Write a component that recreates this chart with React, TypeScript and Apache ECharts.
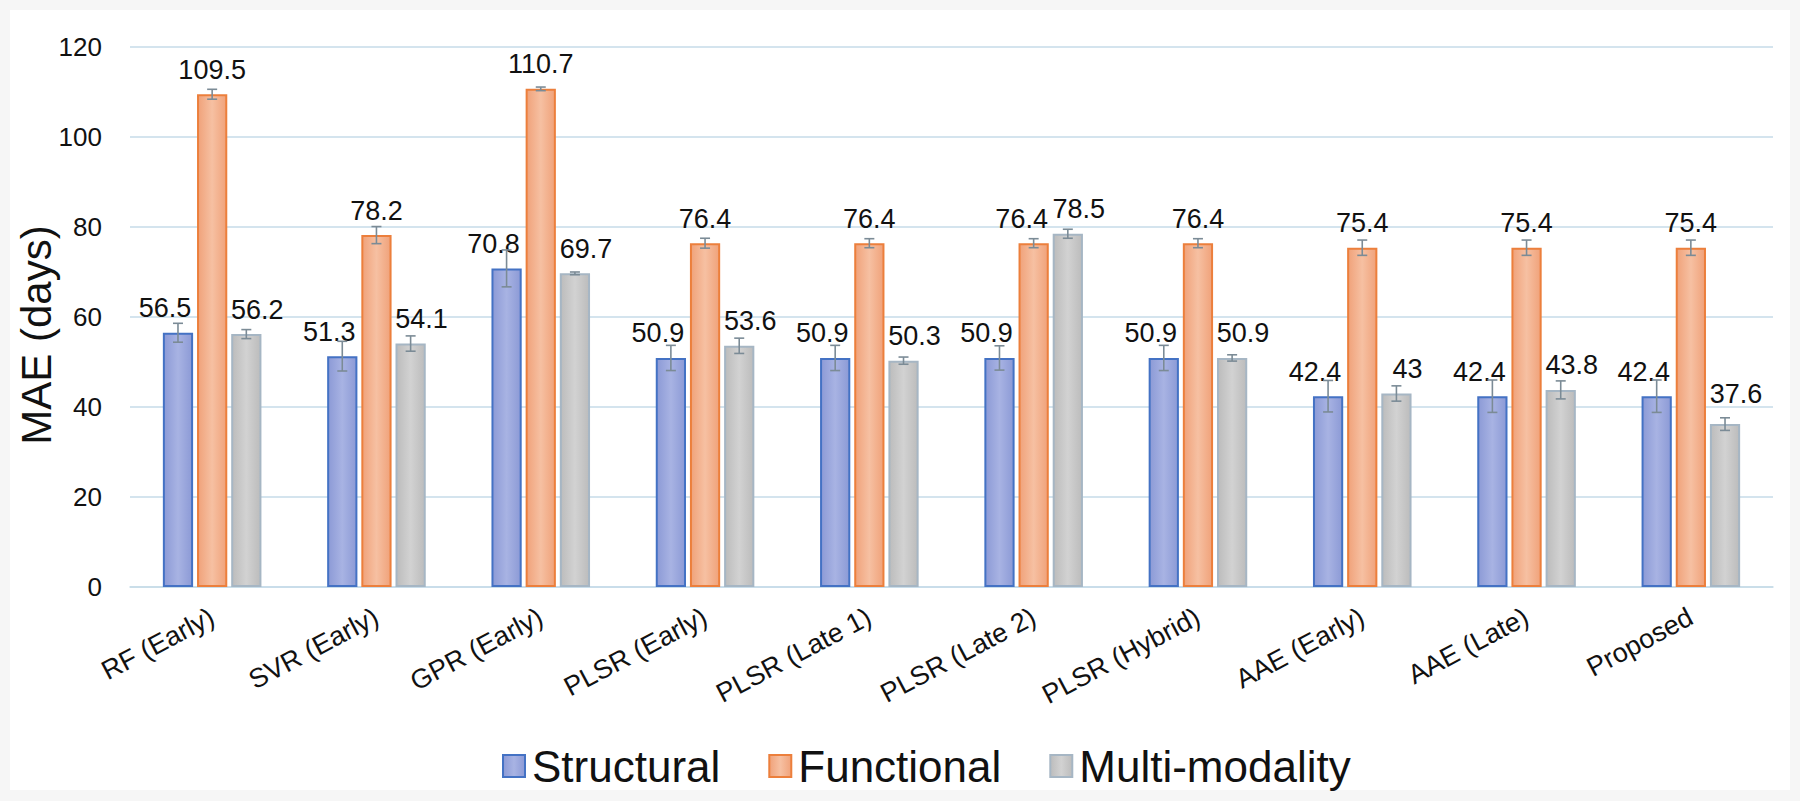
import React, { useEffect, useRef } from "react";
import * as echarts from "echarts";

const categories = [
  "RF (Early)",
  "SVR (Early)",
  "GPR (Early)",
  "PLSR (Early)",
  "PLSR (Late 1)",
  "PLSR (Late 2)",
  "PLSR (Hybrid)",
  "AAE (Early)",
  "AAE (Late)",
  "Proposed",
];
const seriesNames = ["Structural", "Functional", "Multi-modality"];
const structural = [56.5, 51.3, 70.8, 50.9, 50.9, 50.9, 50.9, 42.4, 42.4, 42.4];
const structuralErr = [2.1, 3.3, 4.1, 2.8, 2.8, 2.7, 2.8, 3.5, 3.6, 3.6];
const structuralLabels = ["56.5", "51.3", "70.8", "50.9", "50.9", "50.9", "50.9", "42.4", "42.4", "42.4"];
const functional = [109.5, 78.2, 110.7, 76.4, 76.4, 76.4, 76.4, 75.4, 75.4, 75.4];
const functionalErr = [1.1, 1.9, 0.4, 1.1, 1.0, 1.0, 1.0, 1.7, 1.7, 1.7];
const functionalLabels = ["109.5", "78.2", "110.7", "76.4", "76.4", "76.4", "76.4", "75.4", "75.4", "75.4"];
const multi = [56.2, 54.1, 69.7, 53.6, 50.3, 78.5, 50.9, 43, 43.8, 36.2];
const multiErr = [1.0, 1.7, 0.3, 1.7, 0.8, 1.0, 0.7, 1.7, 2.0, 1.4];
const multiLabels = ["56.2", "54.1", "69.7", "53.6", "50.3", "78.5", "50.9", "43", "43.8", "37.6"];
const yTicks = [0, 20, 40, 60, 80, 100, 120];

const FONT = "'Liberation Sans', Arial, Helvetica, sans-serif";
const BAR_CAT_GAP = 0.4;
const BAR_GAP = 0.13;

const styles = [
  { border: "#4472c4", edge: "#8c9ad6", mid: "#a8b3e3" },
  { border: "#ec7f3c", edge: "#f0a27a", mid: "#f6c0a2" },
  { border: "#a6b6c4", edge: "#bcbcbc", mid: "#d2d2d2" },
];
// horizontal label shifts per series (labels nudged away from the middle bar)
const labelShift = [-13, 0, 11];

export default function App() {
  const ref = useRef<HTMLDivElement>(null);
  useEffect(() => {
    if (!ref.current) return;
    const chart = echarts.init(ref.current, null, { renderer: "svg" });
    const values = [structural, functional, multi];
    const errs = [structuralErr, functionalErr, multiErr];
    const labels = [structuralLabels, functionalLabels, multiLabels];

    const barSeries = values.map((vals, si) => ({
      name: seriesNames[si],
      type: "bar",
      data: vals.map((v, i) => {
        let extra: number[] | null = null;
        if (si === 1 && i === 5) extra = [-12, 0];
        if (si === 2 && i === 9) extra = [labelShift[2], -6];
        return extra ? { value: v, label: { offset: extra } } : v;
      }),
      barCategoryGap: BAR_CAT_GAP * 100 + "%",
      barGap: BAR_GAP * 100 + "%",
      itemStyle: {
        color: new echarts.graphic.LinearGradient(0, 0, 1, 0, [
          { offset: 0, color: styles[si].edge },
          { offset: 0.5, color: styles[si].mid },
          { offset: 1, color: styles[si].edge },
        ]),
        borderColor: styles[si].border,
        borderWidth: 2,
      },
      label: {
        show: true,
        position: "top",
        distance: 11,
        offset: [labelShift[si], 0],
        fontSize: 27,
        fontFamily: FONT,
        color: "#111",
        formatter: (p: any) => labels[si][p.dataIndex],
      },
      z: 2,
    }));

    const errSeries = values.map((vals, si) => ({
      name: seriesNames[si] + " error",
      type: "custom",
      data: vals.map((v, i) => [i, v, errs[si][i]]),
      z: 3,
      silent: true,
      renderItem: (params: any, api: any) => {
        const idx = api.value(0);
        const v = api.value(1);
        const e = api.value(2);
        const band = api.size([1, 0])[0];
        const barW = (band * (1 - BAR_CAT_GAP)) / (3 + 2 * BAR_GAP);
        const off = (si - 1) * barW * (1 + BAR_GAP);
        const cx = api.coord([idx, v])[0] + off;
        const yHi = api.coord([idx, v + e])[1];
        const yLo = api.coord([idx, v - e])[1];
        const cap = 5;
        const st = { stroke: "#7b8b96", lineWidth: 1.6 };
        return {
          type: "group",
          children: [
            { type: "line", shape: { x1: cx, y1: yHi, x2: cx, y2: yLo }, style: st },
            { type: "line", shape: { x1: cx - cap, y1: yHi, x2: cx + cap, y2: yHi }, style: st },
            { type: "line", shape: { x1: cx - cap, y1: yLo, x2: cx + cap, y2: yLo }, style: st },
          ],
        };
      },
    }));

    chart.setOption({
      animation: false,
      backgroundColor: "#f6f6f6",
      graphic: [
        {
          type: "rect",
          shape: { x: 10, y: 10, width: 1780, height: 780 },
          style: { fill: "#ffffff" },
          z: -10,
          silent: true,
        },
        {
          type: "text",
          x: 36,
          y: 335,
          rotation: Math.PI / 2,
          style: {
            text: "MAE (days)",
            fontSize: 42,
            fontFamily: FONT,
            fill: "#111",
            align: "center",
            verticalAlign: "middle",
          },
        },
      ],
      legend: {
        data: seriesNames,
        left: 497,
        top: 739,
        itemWidth: 22,
        itemHeight: 22,
        itemGap: 48,
        icon: "rect",
        textStyle: { fontSize: 44, fontFamily: FONT, color: "#111", padding: [0, 0, 0, 2] },
      },
      grid: { left: 130, right: 27, top: 47, bottom: 214, containLabel: false },
      xAxis: {
        type: "category",
        data: categories,
        axisLine: { show: true, lineStyle: { color: "#c6dbe8", width: 1.5 } },
        axisTick: { show: false },
        axisLabel: {
          rotate: 28,
          fontSize: 27,
          fontFamily: FONT,
          color: "#111",
          margin: 28,
          interval: 0,
        },
      },
      yAxis: {
        type: "value",
        min: yTicks[0],
        max: yTicks[yTicks.length - 1],
        interval: yTicks[1] - yTicks[0],
        axisLine: { show: false },
        axisTick: { show: false },
        axisLabel: { fontSize: 26, fontFamily: FONT, color: "#111", margin: 28 },
        splitLine: { lineStyle: { color: "#c6dbe8", width: 1.5 } },
      },
      series: [...barSeries, ...errSeries],
    });
    return () => chart.dispose();
  }, []);
  return (
    <div
      ref={ref}
      style={{ position: "fixed", left: 0, top: 0, width: "1800px", height: "801px" }}
    />
  );
}
